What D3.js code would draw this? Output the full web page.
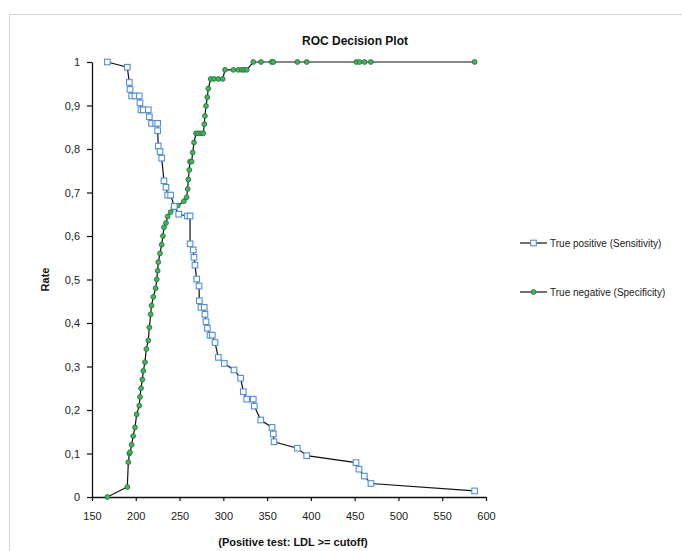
<!DOCTYPE html>
<html>
<head>
<meta charset="utf-8">
<script src="https://cdn.jsdelivr.net/npm/d3@7"></script>
<style>
  html, body { margin: 0; padding: 0; background: #fff; }
  svg { display: block; font-family: "Liberation Sans", Arial, sans-serif; }
</style>
</head>
<body>
<svg id="chart" width="682" height="551"></svg>
<script>
// ---- data ----
const chartTitle = "ROC Decision Plot";
const xTitle = "(Positive test: LDL >= cutoff)";
const yTitle = "Rate";
const xTicks = [150, 200, 250, 300, 350, 400, 450, 500, 550, 600];
const yTicks = [0, 0.1, 0.2, 0.3, 0.4, 0.5, 0.6, 0.7, 0.8, 0.9, 1];
const seriesNames = ["True positive (Sensitivity)", "True negative (Specificity)"];

// True positive (Sensitivity)
const sensX = [167.5, 190.3, 192.6, 193.4, 195.3, 199.1, 204, 204.8, 206, 208.6, 214.3, 215.5, 218, 222.7, 225, 225, 225.7, 227.7, 229.6, 232.2, 234.5, 236.4, 239.8,
  244, 249, 259, 262, 262, 265.7, 266.5, 267.6, 269.6, 272.2, 272.6, 274.5, 278.2, 279, 280.2, 281.7, 284.8, 287.4, 290.5, 294.3, 301.1, 312.2, 319.8, 322.8, 326.7, 334.2, 335.4, 342.7, 355.6, 357.1, 357.9,
  384.5, 395.2, 451.5, 454.9, 461, 468.6, 587];
const sensY = [1.0, 0.988, 0.953, 0.937, 0.922, 0.922, 0.922, 0.906, 0.890, 0.890, 0.890, 0.874, 0.859, 0.859, 0.859, 0.842, 0.807, 0.794, 0.779, 0.727, 0.712, 0.694, 0.694,
  0.668, 0.650, 0.646, 0.646, 0.582, 0.568, 0.551, 0.533, 0.501, 0.485, 0.451, 0.436, 0.436, 0.420, 0.403, 0.388, 0.372, 0.372, 0.355, 0.321, 0.307, 0.292, 0.273, 0.242, 0.225, 0.225, 0.209, 0.177, 0.160, 0.145, 0.127,
  0.112, 0.095, 0.079, 0.064, 0.048, 0.031, 0.014];

// True negative (Specificity)
const specX = [167.5, 190.3, 191.5, 192.6, 193.4, 195.3, 197, 199.1, 201, 204, 204.8, 206, 207.5, 208.6, 210.5, 212, 214.3, 215.5, 217, 218, 220, 222.7, 224, 225, 225.7, 227.7, 229.6, 231, 232.2, 234.5, 236.4, 239.8, 243, 248, 255,
  258.1, 259.3, 260, 261.1, 261.9, 263.8, 265, 266.5, 268.8, 271.4, 274.5, 277.1, 278.3, 279, 280.2, 281.7, 282.8, 285.6, 289.3, 294.3, 299.3, 301.9, 311.4, 317.1, 321, 323.6, 326.7, 334.2, 343, 355.2, 357.1,
  384.5, 395.2, 452, 455.5, 461.3, 468.4, 587];
const specY = [0, 0.023, 0.08, 0.10, 0.103, 0.12, 0.14, 0.16, 0.19, 0.21, 0.23, 0.25, 0.27, 0.29, 0.31, 0.34, 0.36, 0.39, 0.42, 0.44, 0.46, 0.48, 0.50, 0.52, 0.54, 0.56, 0.58, 0.60, 0.62, 0.63, 0.645, 0.655, 0.665, 0.670, 0.680,
  0.689, 0.708, 0.730, 0.752, 0.771, 0.771, 0.792, 0.815, 0.836, 0.836, 0.836, 0.836, 0.857, 0.876, 0.899, 0.919, 0.939, 0.961, 0.961, 0.961, 0.961, 0.982, 0.982, 0.982, 0.982, 0.982, 0.982, 1, 1, 1, 1,
  1, 1, 1, 1, 1, 1, 1];

// ---- layout ----
const svg = d3.select("#chart");
const plot = { left: 92, right: 486, top: 62, bottom: 497 };

const x = d3.scaleLinear().domain([150, 600]).range([plot.left, plot.right]);
const y = d3.scaleLinear().domain([0, 1]).range([plot.bottom, plot.top]);

// outer chart border (top and left edges visible)
svg.append("rect")
  .attr("x", 9.5).attr("y", 14.5).attr("width", 700).attr("height", 560)
  .attr("fill", "none").attr("stroke", "#d4d4d4").attr("stroke-width", 1);

// title
svg.append("text")
  .attr("x", 355).attr("y", 45)
  .attr("text-anchor", "middle")
  .attr("font-size", 12).attr("font-weight", "bold").attr("fill", "#111")
  .text(chartTitle);

const fmt = v => (v === 0 ? "0" : v === 1 ? "1" : d3.format(".1f")(v).replace(".", ","));

// axes
const xAxis = d3.axisBottom(x).tickValues(xTicks).tickSize(4).tickSizeOuter(0).tickPadding(11);
const gx = svg.append("g").attr("transform", `translate(0,${plot.bottom})`).call(xAxis);
const yAxis = d3.axisLeft(y).tickValues(yTicks).tickFormat(fmt).tickSize(5).tickSizeOuter(0).tickPadding(7);
const gy = svg.append("g").attr("transform", `translate(${plot.left},0)`).call(yAxis);
[gx, gy].forEach(g => {
  g.select(".domain").attr("stroke", "#111").attr("stroke-width", 1.3);
  g.selectAll(".tick line").attr("stroke", "#111").attr("stroke-width", 1.2);
  g.selectAll(".tick text").attr("font-size", 11).attr("fill", "#222")
    .attr("font-family", "'Liberation Sans', Arial, sans-serif");
});

// axis titles
svg.append("text")
  .attr("x", (plot.left + plot.right) / 2 + 4).attr("y", 546)
  .attr("text-anchor", "middle")
  .attr("font-size", 11).attr("font-weight", "bold").attr("fill", "#111")
  .text(xTitle);
svg.append("text")
  .attr("transform", `translate(49,${(plot.top + plot.bottom) / 2}) rotate(-90)`)
  .attr("text-anchor", "middle")
  .attr("font-size", 11).attr("font-weight", "bold").attr("fill", "#111")
  .text(yTitle);

const line = d3.line().x(d => x(d[0])).y(d => y(d[1]));
const sens = sensX.map((v, i) => [v, sensY[i]]);
const spec = specX.map((v, i) => [v, specY[i]]);

const blue = "#4f8fdc", greenDark = "#1b7a34", greenFill = "#45b45f";

svg.append("path").datum(spec).attr("d", line)
  .attr("fill", "none").attr("stroke", "#111").attr("stroke-width", 1.2);
svg.append("path").datum(sens).attr("d", line)
  .attr("fill", "none").attr("stroke", "#111").attr("stroke-width", 1.2);

svg.append("g").selectAll("circle").data(spec).join("circle")
  .attr("cx", d => x(d[0])).attr("cy", d => y(d[1])).attr("r", 2.4)
  .attr("fill", greenFill).attr("stroke", greenDark).attr("stroke-width", 0.9);

svg.append("g").selectAll("rect").data(sens).join("rect")
  .attr("x", d => x(d[0]) - 2.8).attr("y", d => y(d[1]) - 2.8)
  .attr("width", 5.6).attr("height", 5.6)
  .attr("fill", "#fff").attr("stroke", blue).attr("stroke-width", 1.1);

// legend
const legend = svg.append("g");
const legY = [243, 292];
seriesNames.forEach((name, i) => {
  const g = legend.append("g").attr("transform", `translate(520,${legY[i]})`);
  g.append("line").attr("x1", 0).attr("x2", 27).attr("y1", 0).attr("y2", 0)
    .attr("stroke", "#111").attr("stroke-width", 1.2);
  if (i === 0) {
    g.append("rect").attr("x", 13.5 - 2.8).attr("y", -2.8).attr("width", 5.6).attr("height", 5.6)
      .attr("fill", "#fff").attr("stroke", blue).attr("stroke-width", 1.1);
  } else {
    g.append("circle").attr("cx", 13.5).attr("cy", 0).attr("r", 2.4)
      .attr("fill", greenFill).attr("stroke", greenDark).attr("stroke-width", 0.9);
  }
  g.append("text").attr("x", 30).attr("y", 3.5)
    .attr("font-size", 10).attr("fill", "#222").text(name);
});
</script>
</body>
</html>
